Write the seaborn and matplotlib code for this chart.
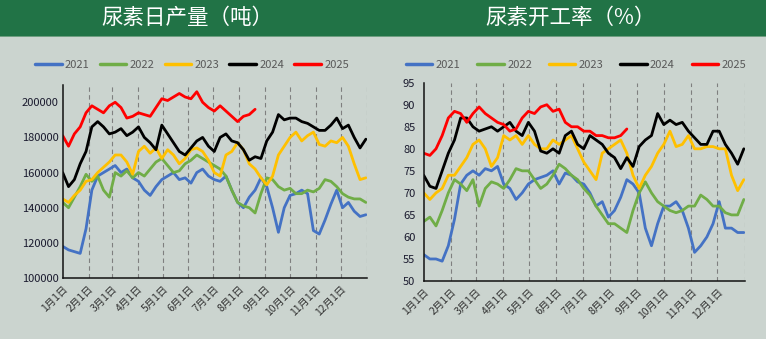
import matplotlib
matplotlib.use("Agg")
import matplotlib.pyplot as plt
import seaborn as sns
import pandas as pd
import numpy as np

# ---- data (weekly readings, day 0 = Jan 1) ----
years = ["2021", "2022", "2023", "2024", "2025"]
colors = ["#4472C4", "#70AD47", "#FFC000", "#000000", "#FF0000"]

# daily output, thousand tonnes
prod_2021 = [118, 116, 115, 114, 128, 150, 158, 160, 162, 164, 160, 162, 157, 155, 150, 147, 152, 156,
             158, 160, 156, 157, 154, 160, 162, 158, 156, 155, 158, 150, 143, 140, 146, 150, 157, 152,
             140, 126, 140, 147, 148, 150, 148, 127, 125, 133, 142, 150, 140, 143, 138, 135, 136]
prod_2022 = [143, 140, 146, 152, 159, 155, 158, 150, 146, 160, 158, 161, 157, 160, 158, 162, 166, 168,
             164, 160, 161, 165, 167, 170, 168, 166, 164, 162, 158, 150, 143, 141, 140, 137, 148, 157,
             156, 152, 150, 151, 148, 148, 150, 149, 151, 156, 155, 152, 148, 146, 145, 145, 143]
prod_2023 = [145, 143, 147, 150, 155, 156, 160, 163, 166, 170, 170, 166, 159, 172, 175, 171, 174, 168,
             173, 170, 165, 168, 173, 174, 172, 167, 160, 158, 170, 172, 177, 173, 165, 162, 157, 153,
             158, 170, 175, 180, 183, 178, 181, 183, 176, 175, 178, 177, 180, 175, 165, 156, 157]
prod_2024 = [160, 152, 156, 165, 172, 186, 189, 186, 182, 183, 185, 181, 183, 186, 180, 177, 173, 187,
             182, 177, 172, 170, 174, 178, 180, 175, 172, 180, 182, 178, 177, 173, 167, 169, 168, 178,
             183, 193, 190, 191, 191, 189, 188, 186, 184, 184, 187, 191, 185, 187, 180, 174, 179]
prod_2025 = [181, 175, 182, 186, 194, 198, 196, 194, 198, 200, 197, 191, 192, 194, 193, 192, 197, 202,
             201, 203, 205, 203, 202, 206, 200, 197, 195, 198, 195, 192, 189, 192, 193, 196]

# operating rate, %
rate_2021 = [56, 55, 55, 54.5, 58, 64, 72, 74, 75, 74, 75.5, 75, 76, 72, 71, 68.5, 70, 72, 73, 73.5,
             74, 75, 72, 74.5, 74, 72.5, 72, 70, 67, 68, 64.5, 66, 69, 73, 72, 70, 62, 58, 63, 67,
             67, 68, 66, 62, 56.5, 58, 60, 63, 68, 62, 62, 61, 61]
rate_2022 = [63.5, 64.5, 62.5, 66, 70, 73, 72, 70.5, 73, 67, 71, 72.5, 72, 71, 73, 75.5, 75, 75, 73,
             71, 72, 74, 76.5, 75.5, 74, 73, 71, 69.5, 67, 65, 63, 63, 62, 61, 66, 70, 72.5, 70, 68,
             67, 66, 65.5, 66, 67, 67, 69.5, 68.5, 67, 67, 65.5, 65, 65, 68.5]
rate_2023 = [70, 68.5, 70, 71, 74, 74, 76, 78, 81, 82, 80, 76, 78, 83, 82, 83, 81, 83, 81, 80, 80,
             82, 81, 82, 83, 80, 77, 75, 73, 79, 80, 81, 82, 79, 74, 71, 74, 76, 79, 81, 84, 80.5,
             81, 83, 80, 80, 80.5, 80.5, 80, 80, 74, 70.5, 73]
rate_2024 = [74, 71.5, 71, 75, 79, 82, 87, 87, 85, 84, 84.5, 85, 84, 85, 86, 84, 83, 86, 84, 79.5,
             79, 80, 79, 83, 84, 81, 80, 83, 82, 81, 79, 78, 75.5, 78, 76, 80.5, 82, 83, 88, 85.5,
             86.5, 85.5, 86, 84, 82.5, 81, 81, 84, 84, 81, 79, 76.5, 80]
rate_2025 = [79, 78.5, 80, 83, 87, 88.5, 88, 86, 88, 89.5, 88, 87, 86, 85.5, 84, 84.5, 87, 88.5, 88,
             89.5, 90, 88.5, 89, 86, 85, 85, 84, 84, 83, 83, 82.5, 82.5, 83, 84.5]

month_labels = ["1月1日", "2月1日", "3月1日", "4月1日", "5月1日", "6月1日", "7月1日",
                "8月1日", "9月1日", "10月1日", "11月1日", "12月1日"]
month_days = [0, 31, 59, 90, 120, 151, 181, 212, 243, 273, 304, 334, 365]


def make_df(series, scale=1.0):
    rows = []
    for yr, vals in zip(years, series):
        for i, v in enumerate(vals):
            rows.append({"day": i * 7 if i * 7 < 365 else 364, "value": v * scale, "year": yr})
    return pd.DataFrame(rows)


df_prod = make_df([prod_2021, prod_2022, prod_2023, prod_2024, prod_2025], 1000)
df_rate = make_df([rate_2021, rate_2022, rate_2023, rate_2024, rate_2025])

sns.set_theme(style="white")
plt.rcParams["font.family"] = ["Noto Sans CJK SC", "DejaVu Sans"]

BG = "#CBD4CF"
HEAD = "#217346"
W, H = 766, 339
fig = plt.figure(figsize=(W / 100, H / 100), dpi=100, facecolor=BG)

# header band
fig.patches.append(plt.Rectangle((0, 1 - 36 / H), 1, 36 / H, transform=fig.transFigure,
                                 facecolor=HEAD, edgecolor="none", zorder=0))
fig.patches.append(plt.Rectangle((0, 1 - 37 / H), 1, 1 / H, transform=fig.transFigure,
                                 facecolor="#6E9E80", edgecolor="none", zorder=0))
fig.text(187 / W, 1 - 18 / H, "尿素日产量（吨）", color="white", fontsize=15.5,
         ha="center", va="center")
fig.text(571 / W, 1 - 18 / H, "尿素开工率（%）", color="white", fontsize=15.5,
         ha="center", va="center")

palette = dict(zip(years, colors))


def style_axes(ax, ylim, yticks, ytick_dir):
    ax.set_facecolor(BG)
    ax.set_xlim(0, 365)
    ax.set_ylim(*ylim)
    ax.set_yticks(yticks)
    ax.set_xticks(month_days)
    ax.set_xticklabels(month_labels + [""], rotation=45, ha="right", rotation_mode="anchor",
                       fontsize=7.5, color="#333333")
    ax.tick_params(axis="x", direction="in", length=4, width=0.8, color="#333333", pad=4)
    ax.tick_params(axis="y", direction=ytick_dir, length=3, width=0.8, color="#222222",
                   labelsize=8, labelcolor="#1a1a2e", pad=3)
    for d in month_days[1:]:
        ax.axvline(d, color="#7f7f7f", linestyle=(0, (4, 3)), linewidth=0.8, zorder=0)
    for s in ["top", "right"]:
        ax.spines[s].set_visible(False)
    for s in ["left", "bottom"]:
        ax.spines[s].set_color("#111111")
        ax.spines[s].set_linewidth(1.1)
    ax.set_xlabel("")
    ax.set_ylabel("")
    ax.grid(False)


ax1 = fig.add_axes([62.7 / W, 1 - 278 / H, 304 / W, (278 - 84.7) / H])
sns.lineplot(data=df_prod, x="day", y="value", hue="year", palette=palette, ax=ax1,
             linewidth=2.0, legend=False)
style_axes(ax1, (100000, 210000), list(range(100000, 200001, 20000)), "in")

ax2 = fig.add_axes([423.7 / W, 1 - 281 / H, 321 / W, (281 - 82.7) / H])
sns.lineplot(data=df_rate, x="day", y="value", hue="year", palette=palette, ax=ax2,
             linewidth=2.0, legend=False)
style_axes(ax2, (50, 95), list(range(50, 96, 5)), "out")

# legends
handles = [plt.Line2D([0], [0], color=c, linewidth=2.5) for c in colors]
for cx, sp in ((192 / W, 0.9), (576 / W, 1.5)):
    fig.legend(handles, years, loc="center", bbox_to_anchor=(cx, 1 - 65 / H), ncol=5,
               frameon=False, fontsize=8, handlelength=2.4, handletextpad=0.3,
               columnspacing=sp, labelcolor="#595959")

fig.savefig("out.png", dpi=100, facecolor=BG)
